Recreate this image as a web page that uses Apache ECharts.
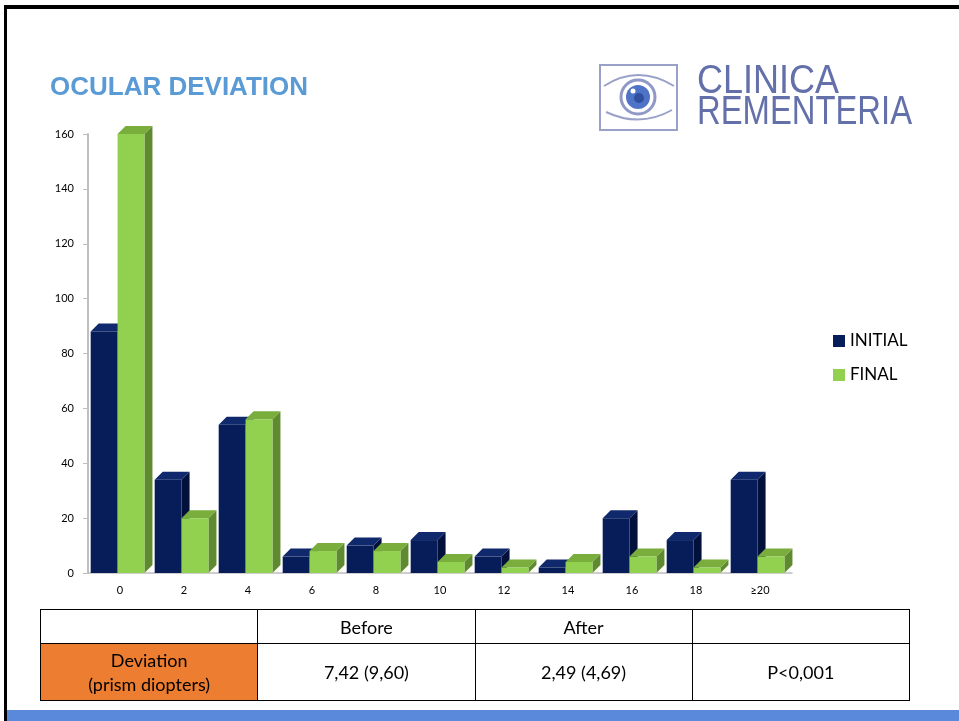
<!DOCTYPE html>
<html>
<head>
<meta charset="utf-8">
<script src="https://cdn.jsdelivr.net/npm/echarts@6/dist/echarts.min.js"></script>
<style>
  html, body { margin: 0; padding: 0; background: #fff; }
  body { width: 959px; height: 721px; position: relative; overflow: hidden; }
  #chart { position: absolute; left: 0; top: 0; width: 959px; height: 721px; }
  .frame-top { position: absolute; left: 4px; top: 5px; width: 955px; height: 4px; background: #000; }
  .frame-left { position: absolute; left: 4px; top: 5px; width: 3px; height: 716px; background: #000; }
  .footer-bar { position: absolute; left: 7px; top: 710px; width: 952px; height: 11px; background: #5a88db; }
  table.stats {
    position: absolute; left: 40px; top: 609px; width: 870px;
    border-collapse: collapse; font-family: Lato, "Open Sans", sans-serif; font-size: 18px; color: #000;
  }
  table.stats td { border: 1px solid #000; text-align: center; padding: 0; width: 217px; }
  table.stats tr.head td { height: 33px; }
  table.stats tr.body td { height: 56px; line-height: 24px; }
  table.stats td.label { background: #ed7d31; }
</style>
</head>
<body>
<div id="chart"></div>
<div class="frame-top"></div>
<div class="frame-left"></div>
<div class="footer-bar"></div>
<table class="stats" id="stats"></table>
<script>
// deviation classes (prism diopters)
var categories = ['0', '2', '4', '6', '8', '10', '12', '14', '16', '18', '≥20']
var initialValues = [88, 34, 54, 6, 10, 12, 6, 2, 20, 12, 34]
var finalValues = [160, 20, 56, 8, 8, 4, 2, 4, 6, 2, 6]
var seriesNames = ['INITIAL', 'FINAL']

// table under the chart
var tableHeader = ['', 'Before', 'After', '']
var rowLabel = ['Deviation', '(prism diopters)']
var rowValues = ['7,42 (9,60)', '2,49 (4,69)', 'P<0,001']

var colors = [
  { front: '#071d5a', side: '#02113c', top: '#10286c' },
  { front: '#92d050', side: '#5f8a30', top: '#79ae3c' }
]

// build table
var tbl = document.getElementById('stats')
var head = '<tr class="head">' + tableHeader.map(function(t) { return '<td>' + t + '</td>' }).join('') + '</tr>'
var body = '<tr class="body"><td class="label">' + rowLabel.join('<br>') + '</td>' +
  rowValues.map(function(t) { return '<td>' + t.replace('<', '&lt;') + '</td>' }).join('') + '</tr>'
tbl.innerHTML = head + body

function bar3d(idx) {
  var c = colors[idx]
  return function(params, api) {
    var i = api.value(0)
    var top = api.coord([i, api.value(1)])
    var base = api.coord([i, 0])
    var bw = api.size([1, 0])[0]
    var w = bw * 0.42
    var x0 = top[0] - bw / 2 + bw * 0.042 + idx * w
    var x1 = x0 + w
    var d = bw * 0.125
    var yT = top[1], yB = base[1]
    return {
      type: 'group',
      children: [
        { type: 'polygon', shape: { points: [[x1, yT], [x1 + d, yT - d], [x1 + d, yB - d], [x1, yB]] }, style: { fill: c.side } },
        { type: 'polygon', shape: { points: [[x0, yT], [x0 + d, yT - d], [x1 + d, yT - d], [x1, yT]] }, style: { fill: c.top } },
        { type: 'rect', shape: { x: x0, y: yT, width: w, height: yB - yT }, style: { fill: c.front } }
      ]
    }
  }
}

var chart = echarts.init(document.getElementById('chart'), null, { renderer: 'canvas' })

var logoBlue = '#6470aa'
var lidColor = '#9aa1c8'
chart.setOption({
  animation: false,
  grid: { left: 88, right: 167, top: 134, bottom: 148 },
  legend: {
    data: seriesNames,
    orient: 'vertical',
    left: 833,
    top: 331,
    padding: 0,
    icon: 'rect',
    itemWidth: 12,
    itemHeight: 12,
    itemGap: 14,
    textStyle: { fontSize: 17, lineHeight: 20, fontFamily: 'Lato', color: '#000' }
  },
  xAxis: {
    type: 'category',
    data: categories,
    axisLine: { lineStyle: { color: '#bfbfbf', width: 1.5 } },
    axisTick: { length: 5, lineStyle: { color: '#bfbfbf' } },
    axisLabel: { fontSize: 11, fontFamily: 'Lato', color: '#000', margin: 12 }
  },
  yAxis: {
    type: 'value',
    min: 0,
    max: 160,
    interval: 20,
    splitLine: { show: false },
    axisLine: { show: true, lineStyle: { color: '#bfbfbf', width: 2 } },
    axisTick: { show: true, length: 5, lineStyle: { color: '#bfbfbf' } },
    axisLabel: { fontSize: 11, fontFamily: 'Lato', color: '#000', margin: 14 }
  },
  graphic: [
    { type: 'text', x: 50, y: 88, style: { text: 'OCULAR DEVIATION', font: 'bold 26px "Liberation Sans"', fill: '#5b9bd5', verticalAlign: 'middle' } },
    // logo
    { type: 'rect', shape: { x: 600, y: 65, width: 77, height: 65 }, style: { fill: 'none', stroke: lidColor, lineWidth: 2 } },
    { type: 'bezierCurve', shape: { x1: 604, y1: 86, cpx1: 638, cpy1: 64, x2: 674, y2: 86 }, style: { fill: 'none', stroke: lidColor, lineWidth: 2 } },
    { type: 'bezierCurve', shape: { x1: 606, y1: 112, cpx1: 640, cpy1: 128, x2: 672, y2: 110 }, style: { fill: 'none', stroke: lidColor, lineWidth: 2 } },
    { type: 'circle', shape: { cx: 638, cy: 97, r: 17 }, style: { fill: '#fff', stroke: '#8f98c6', lineWidth: 3 } },
    { type: 'circle', shape: { cx: 638, cy: 97, r: 12 }, style: { fill: '#4f73c6' } },
    { type: 'circle', shape: { cx: 639, cy: 98, r: 5 }, style: { fill: '#2f4f9f' } },
    { type: 'circle', shape: { cx: 633, cy: 91, r: 2.5 }, style: { fill: '#fff' } },
    { type: 'text', x: 697, y: 82, scaleX: 0.9, style: { text: 'CLINICA', font: '40px "Liberation Sans"', fill: logoBlue, verticalAlign: 'middle' } },
    { type: 'text', x: 697, y: 113, scaleX: 0.82, style: { text: 'REMENTERIA', font: '40px "Liberation Sans"', fill: logoBlue, verticalAlign: 'middle' } }
  ],
  series: [
    {
      name: seriesNames[0],
      type: 'custom',
      renderItem: bar3d(0),
      itemStyle: { color: colors[0].front },
      encode: { x: 0, y: 1 },
      data: initialValues.map(function(v, i) { return [i, v] }),
      z: 2
    },
    {
      name: seriesNames[1],
      type: 'custom',
      renderItem: bar3d(1),
      itemStyle: { color: colors[1].front },
      encode: { x: 0, y: 1 },
      data: finalValues.map(function(v, i) { return [i, v] }),
      z: 3
    }
  ]
})
</script>
</body>
</html>
